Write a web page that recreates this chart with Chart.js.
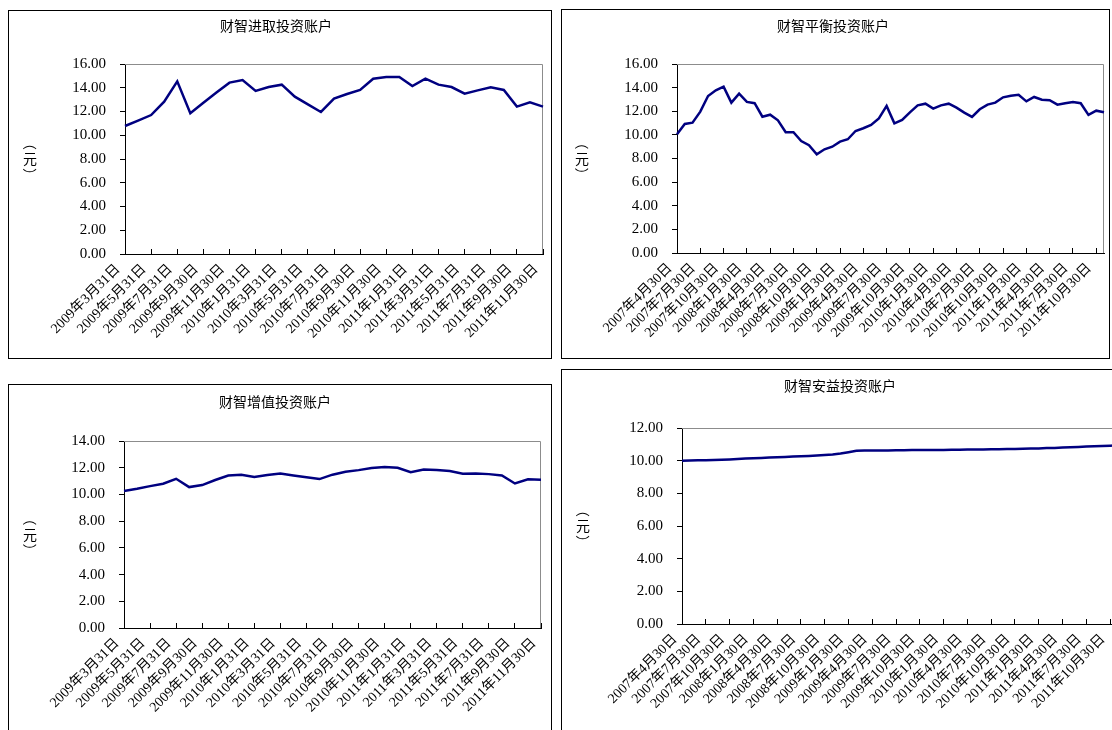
<!DOCTYPE html>
<html>
<head>
<meta charset="utf-8">
<script src="https://cdn.jsdelivr.net/npm/chart.js@4/dist/chart.umd.min.js"></script>
<style>
body { margin: 0; background: #fff; width: 1112px; height: 730px; overflow: hidden; position: relative; }
.box { position: absolute; border: 1px solid #000; background: #fff; }
.box canvas { display: block; }
</style>
</head>
<body>
<div class="box" style="left:8px;top:10px;width:542px;height:347px"><canvas id="c1"></canvas></div>
<div class="box" style="left:561px;top:9px;width:547px;height:348px"><canvas id="c2"></canvas></div>
<div class="box" style="left:8px;top:384px;width:542px;height:360px"><canvas id="c3"></canvas></div>
<div class="box" style="left:561px;top:369px;width:563px;height:370px"><canvas id="c4"></canvas></div>
<script>
// tick labels shown on the x axes
const ticks0903 = ['2009年3月31日', '2009年5月31日', '2009年7月31日', '2009年9月30日', '2009年11月30日',
    '2010年1月31日', '2010年3月31日', '2010年5月31日', '2010年7月31日', '2010年9月30日', '2010年11月30日',
    '2011年1月31日', '2011年3月31日', '2011年5月31日', '2011年7月31日', '2011年9月30日', '2011年11月30日'];
const ticks0704 = ['2007年4月30日', '2007年7月30日', '2007年10月30日', '2008年1月30日', '2008年4月30日',
    '2008年7月30日', '2008年10月30日', '2009年1月30日', '2009年4月30日', '2009年7月30日', '2009年10月30日',
    '2010年1月30日', '2010年4月30日', '2010年7月30日', '2010年10月30日', '2011年1月30日', '2011年4月30日',
    '2011年7月30日', '2011年10月30日'];

// unit prices (元), monthly
const jinqu = [10.78, 11.23, 11.70, 12.83, 14.54, 11.85, 12.74, 13.60, 14.43, 14.65, 13.73,
    14.06, 14.26, 13.25, 12.60, 11.96, 13.08, 13.47, 13.81, 14.76, 14.90, 14.90,
    14.15, 14.76, 14.26, 14.06, 13.50, 13.78, 14.03, 13.81, 12.41, 12.77, 12.41];

const pingheng = [10.05, 10.92, 11.03, 11.97, 13.29, 13.77, 14.08, 12.73, 13.49, 12.79, 12.68,
    11.54, 11.71, 11.23, 10.22, 10.22, 9.48, 9.12, 8.36, 8.78, 9.00, 9.43,
    9.63, 10.33, 10.56, 10.84, 11.40, 12.45, 10.98, 11.26, 11.91, 12.50, 12.64,
    12.22, 12.50, 12.64, 12.30, 11.88, 11.52, 12.17, 12.56, 12.73, 13.18, 13.32,
    13.40, 12.84, 13.21, 12.98, 12.93, 12.56, 12.68, 12.79, 12.68, 11.69, 12.05, 11.91];

const zengzhi = [10.25, 10.42, 10.62, 10.80, 11.17, 10.55, 10.70, 11.08, 11.42, 11.47, 11.30,
    11.45, 11.57, 11.42, 11.28, 11.15, 11.48, 11.70, 11.82, 11.98, 12.05, 12.00,
    11.67, 11.87, 11.82, 11.75, 11.55, 11.57, 11.52, 11.42, 10.82, 11.14, 11.10];

const anyi = [10.00, 10.01, 10.02, 10.03, 10.04, 10.05, 10.07, 10.10, 10.13,
    10.15, 10.17, 10.19, 10.21, 10.23, 10.25, 10.27, 10.29, 10.31, 10.34, 10.38, 10.44,
    10.52, 10.60, 10.62, 10.62, 10.63, 10.63, 10.64, 10.64, 10.65, 10.65, 10.66, 10.66,
    10.66, 10.67, 10.67, 10.68, 10.68, 10.69, 10.70, 10.70, 10.71, 10.72, 10.73, 10.74,
    10.75, 10.77, 10.78, 10.80, 10.82, 10.84, 10.86, 10.88, 10.90, 10.92, 10.94];

const unitText = ['（', '元', '）'];

// month categories (only every 2nd / 3rd one gets a label)
function monthKeys(y, m, n) {
    const out = [];
    for (let i = 0; i < n; i++) {
        out.push(y + '年' + m + '月');
        m++;
        if (m > 12) { m = 1; y++; }
    }
    return out;
}

Chart.defaults.font.family = "'Liberation Serif', 'Noto Sans CJK SC', serif";
Chart.defaults.color = '#000';

// gray top/right edge of the plot area
const frame = {
    id: 'frame',
    beforeDatasetsDraw(chart) {
        const a = chart.chartArea, ctx = chart.ctx;
        ctx.save();
        ctx.strokeStyle = '#8c8c8c';
        ctx.lineWidth = 1;
        ctx.beginPath();
        ctx.moveTo(a.left, a.top + 0.5);
        ctx.lineTo(a.right - 0.5, a.top + 0.5);
        ctx.lineTo(a.right - 0.5, a.bottom);
        ctx.stroke();
        ctx.restore();
    }
};

// vertical "（元）" beside the y axis, brackets turned sideways
const unitLabel = {
    id: 'unitLabel',
    afterDraw(chart, args, opts) {
        const ctx = chart.ctx, a = chart.chartArea;
        const cy = (a.top + a.bottom) / 2;
        ctx.save();
        ctx.font = "14px 'Noto Sans CJK SC'";
        ctx.fillStyle = '#000';
        ctx.textAlign = 'center';
        ctx.textBaseline = 'middle';
        opts.text.forEach((c, i) => {
            const y = cy + (i - 1) * 16;
            if (i === 1) {
                ctx.fillText(c, opts.x, y);
            } else {
                ctx.save();
                ctx.translate(opts.x, y);
                ctx.rotate(Math.PI / 2);
                ctx.fillText(c, 0, 0);
                ctx.restore();
            }
        });
        ctx.restore();
    }
};

function makeChart(id, title, cats, values, tickLabels, step, yMax, g) {
    return new Chart(document.getElementById(id), {
        type: 'line',
        data: {
            labels: cats,
            datasets: [{
                data: values,
                borderColor: '#000080',
                borderWidth: 2.5,
                pointRadius: 0,
                tension: 0,
                fill: false
            }]
        },
        options: {
            responsive: true,
            maintainAspectRatio: false,
            animation: false,
            layout: { padding: { left: 0, right: g.padR, top: 0, bottom: g.padB } },
            plugins: {
                legend: { display: false },
                tooltip: { enabled: false },
                title: {
                    display: true,
                    text: title,
                    color: '#000',
                    font: { size: 14, weight: 'normal' },
                    padding: { top: g.tTop, bottom: g.tBot }
                },
                unitLabel: { x: g.ux, text: unitText }
            },
            scales: {
                x: {
                    type: 'category',
                    offset: false,
                    grid: { drawOnChartArea: false, color: '#000', tickLength: -5 },
                    border: { color: '#000' },
                    ticks: {
                        autoSkip: false,
                        minRotation: 45,
                        maxRotation: 45,
                        padding: 12,
                        labelOffset: -7,
                        color: '#000',
                        font: { size: 14 },
                        callback: (v, i) => (i % step === 0 ? tickLabels[i / step] : null)
                    },
                    afterFit: s => {
                        s.height = g.xh;
                        s.paddingLeft = 0;
                        s.paddingRight = 0;
                    }
                },
                y: {
                    min: 0,
                    max: yMax,
                    grid: { drawOnChartArea: false, color: '#000', tickLength: 5 },
                    border: { color: '#000' },
                    ticks: {
                        stepSize: 2,
                        padding: 14,
                        color: '#000',
                        font: { size: 15 },
                        callback: v => v.toFixed(2)
                    },
                    afterFit: s => { s.width = g.yw; }
                }
            }
        },
        plugins: [frame, unitLabel]
    });
}

makeChart('c1', '财智进取投资账户', monthKeys(2009, 3, 33), jinqu, ticks0903, 2, 16,
    { padR: 8, padB: 4, xh: 100, yw: 116, tTop: 7.6, tBot: 28.6, ux: 21 });
makeChart('c2', '财智平衡投资账户', monthKeys(2007, 4, 56), pingheng, ticks0704, 3, 16,
    { padR: 5, padB: 5, xh: 100, yw: 115, tTop: 8.6, tBot: 28.6, ux: 20 });
makeChart('c3', '财智增值投资账户', monthKeys(2009, 3, 33), zengzhi, ticks0903, 2, 14,
    { padR: 10, padB: 17, xh: 100, yw: 115, tTop: 9.6, tBot: 29.6, ux: 21 });
makeChart('c4', '财智安益投资账户', monthKeys(2007, 4, 56), anyi, ticks0704, 3, 12,
    { padR: 7, padB: 16, xh: 100, yw: 120, tTop: 8.6, tBot: 32.6, ux: 21 });
</script>
</body>
</html>
